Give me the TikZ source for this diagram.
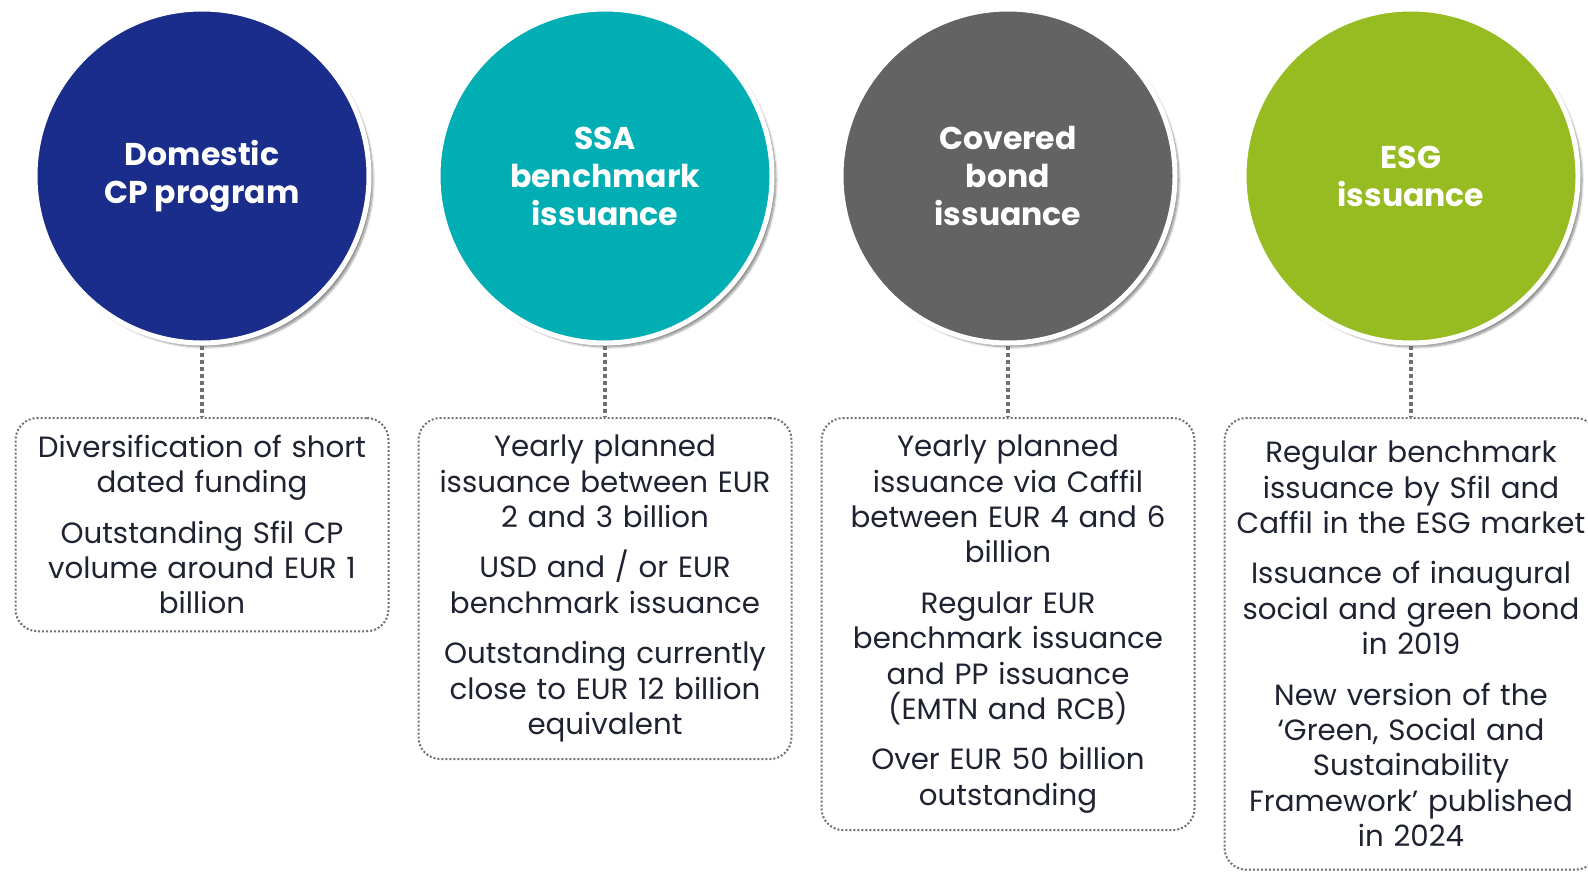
\documentclass[tikz,border=0pt]{standalone}
\usepackage{fontspec}
\setmainfont{Poppins}
\usetikzlibrary{positioning, shadows.blur}

\definecolor{cpblue}{HTML}{1A2D8B}
\definecolor{ssateal}{HTML}{00AEB4}
\definecolor{cbgrey}{HTML}{636363}
\definecolor{esggreen}{HTML}{97BC22}
\definecolor{bodyink}{HTML}{1F2231}
\definecolor{dotgrey}{HTML}{707070}

\tikzset{
  bubble/.style={circle, minimum size=334pt, inner sep=0pt, draw=white, line width=5pt,
    fill=#1, text=white, align=center,
    font=\bfseries\fontsize{31.5}{38}\selectfont,
    blur shadow={shadow xshift=4pt, shadow yshift=-4pt, shadow blur steps=8, shadow opacity=45}},
  infobox/.style={draw=dotgrey, line width=2pt, dash pattern=on 2pt off 2pt,
    rounded corners=22pt, anchor=north, text width=359pt, minimum width=373pt,
    inner xsep=7pt, inner ysep=17pt, align=center, text=bodyink,
    font=\fontsize{29.3}{35.4}\selectfont},
  link/.style={draw=dotgrey, line width=4pt, dash pattern=on 4pt off 3pt}
}
\newcommand{\pgap}{\\[15pt]}

\begin{document}
\begin{tikzpicture}[x=1pt, y=-1pt]
  \useasboundingbox (0, 0) rectangle (1588, 871);
  % Circles:
  \node[bubble=cpblue] (dom) at (202, 176) {Domestic\\CP program};
  \node[bubble=ssateal] (ssa) at (605, 176) {SSA\\benchmark\\issuance};
  \node[bubble=cbgrey] (cov) at (1008, 176) {Covered\\bond\\issuance};
  \node[bubble=esggreen] (esg) at (1411, 176) {ESG\\issuance};
  % Boxes below the circles:
  \node[infobox] (domtxt) at (202, 417) {Diversification of short\\dated funding\pgap
    Outstanding Sfil CP\\volume around EUR 1\\billion};
  \node[infobox] (ssatxt) at (605, 417) {Yearly planned\\issuance between EUR\\2 and 3 billion\pgap
    USD and / or EUR\\benchmark issuance\pgap
    Outstanding currently\\close to EUR 12 billion\\equivalent};
  \node[infobox] (covtxt) at (1008, 417) {Yearly planned\\issuance via Caffil\\between EUR 4 and 6\\billion\pgap
    Regular EUR\\benchmark issuance\\and PP issuance\\(EMTN and RCB)\pgap
    Over EUR 50 billion\\outstanding};
  \node[infobox, inner ysep=23pt] (esgtxt) at (1411, 417) {Regular benchmark\\issuance by Sfil and\\Caffil in the ESG market\pgap
    Issuance of inaugural\\social and green bond\\in 2019\pgap
    New version of the\\‘Green, Social and\\Sustainability\\Framework’ published\\in 2024};
  % Dotted links:
  \draw[link] (dom.south) -- (domtxt.north);
  \draw[link] (ssa.south) -- (ssatxt.north);
  \draw[link] (cov.south) -- (covtxt.north);
  \draw[link] (esg.south) -- (esgtxt.north);
\end{tikzpicture}
\end{document}
